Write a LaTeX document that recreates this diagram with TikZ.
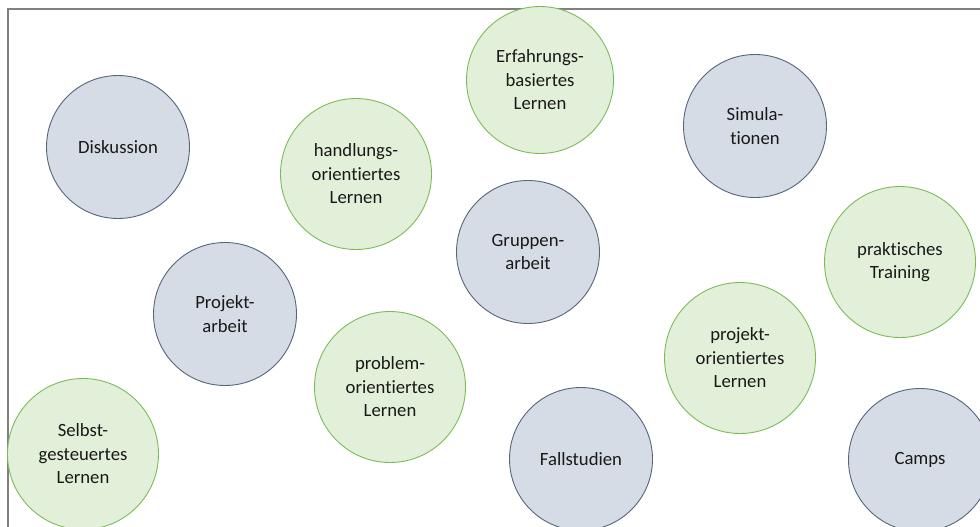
\documentclass[tikz,border=0pt]{standalone}
\usepackage{fontspec}
\setmainfont[Ligatures=NoCommon]{Carlito}
\definecolor{bfill}{HTML}{D6DCE5}
\definecolor{bline}{HTML}{56657A}
\definecolor{gfill}{HTML}{E2F0D9}
\definecolor{gline}{HTML}{7DBB5A}
\definecolor{frame}{HTML}{808080}
\begin{document}
\begin{tikzpicture}[x=1pt,y=-1pt,
  lbl/.style={align=center,font=\fontsize{18.7}{23.5}\selectfont,text=black!90},
  bc/.style={circle,draw=bline,fill=bfill,line width=0.9pt,minimum size=#1,inner sep=0pt,lbl},
  gc/.style={circle,draw=gline,fill=gfill,line width=0.9pt,minimum size=#1,inner sep=0pt,lbl}]
\useasboundingbox (0,0) rectangle (980,527);
\begin{scope}
\clip (0,0) rectangle (980,527);
\draw[frame,line width=2pt] (8,540) -- (8,9) -- (990,9);
\node[bc=143] (disk) at (118,147) {Diskussion};
\node[gc=151] (hand) at (356,174) {handlungs-\\orientiertes\\Lernen};
\node[gc=147] (erf) at (540,80) {Erfahrungs-\\basiertes\\Lernen};
\node[bc=143] (sim) at (755,126) {Simula-\\tionen};
\node[bc=143] (grp) at (528,252) {Gruppen-\\arbeit};
\node[gc=151] (prak) at (900,262) {praktisches\\Training};
\node[bc=143] (proj) at (225,314) {Projekt-\\arbeit};
\node[gc=151] (prob) at (390,387) {problem-\\orientiertes\\Lernen};
\node[gc=151] (porl) at (740,358) {projekt-\\orientiertes\\Lernen};
\node[gc=151] (selb) at (83,454) {Selbst-\\gesteuertes\\Lernen};
\node[bc=143] (fall) at (581,459) {Fallstudien};
\node[bc=143] (camp) at (920,460) {Camps};
\end{scope}
\end{tikzpicture}
\end{document}
